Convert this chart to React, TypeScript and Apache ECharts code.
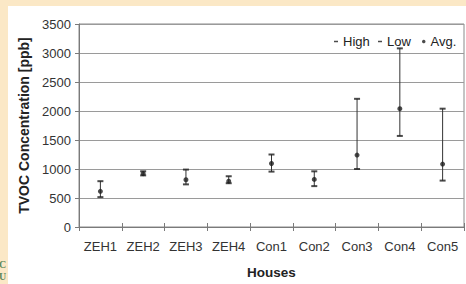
import React, { useEffect, useRef } from "react";
import * as echarts from "echarts";

const categories = ["ZEH1", "ZEH2", "ZEH3", "ZEH4", "Con1", "Con2", "Con3", "Con4", "Con5"];
const highValues = [790, 960, 990, 875, 1250, 960, 2210, 3080, 2040];
const lowValues = [515, 890, 735, 755, 955, 705, 1000, 1570, 800];
const avgValues = [615, 920, 815, 790, 1095, 820, 1240, 2040, 1085];
const yTicks = { min: 0, max: 3500, interval: 500 };

export default function App() {
  const ref = useRef<HTMLDivElement>(null);
  useEffect(() => {
    if (!ref.current) return;
    const chart = echarts.init(ref.current, undefined, { renderer: "svg" });
    const font = "Arial, 'Liberation Sans', sans-serif";
    const dark = "#1e1e1e";
    const legendText = { fontSize: 13, color: "#222", fontFamily: font };
    chart.setOption({
      animation: false,
      backgroundColor: "#fbe8c6",
      textStyle: { fontFamily: font },
      graphic: [
        {
          type: "rect",
          z: -10,
          silent: true,
          shape: { x: 8, y: 6, width: 470, height: 290 },
          style: { fill: "#ffffff" },
        },
        {
          type: "text",
          left: -1,
          top: 259,
          style: { text: "C", fill: "#5f8a5a", font: "bold 10px serif" },
        },
        {
          type: "text",
          left: -1,
          top: 271,
          style: { text: "U", fill: "#5f8a5a", font: "bold 10px serif" },
        },
      ],
      grid: { left: 79, top: 24, right: 2, bottom: 54, show: true, borderColor: "#8a8a8a", borderWidth: 1 },
      legend: [
        {
          left: 329,
          top: 30,
          itemWidth: 4,
          itemHeight: 1.5,
          textStyle: legendText,
          data: [{ name: "High", icon: "rect", itemStyle: { color: dark } }],
        },
        {
          left: 373,
          top: 30,
          itemWidth: 4,
          itemHeight: 1.5,
          textStyle: legendText,
          data: [{ name: "Low", icon: "rect", itemStyle: { color: dark } }],
        },
        {
          left: 417,
          top: 30,
          itemWidth: 3.5,
          itemHeight: 3.5,
          textStyle: legendText,
          data: [{ name: "Avg.", icon: "circle", itemStyle: { color: dark } }],
        },
      ],
      xAxis: [
        {
          type: "category",
          data: categories,
          name: "Houses",
          nameLocation: "middle",
          nameGap: 38,
          nameTextStyle: { fontSize: 13.5, fontWeight: "bold", color: "#222", fontFamily: font },
          axisLine: { lineStyle: { color: "#7a7a7a" } },
          axisTick: { show: true, length: 4, lineStyle: { color: "#7a7a7a" } },
          axisLabel: { interval: 0, fontSize: 13, color: "#333", margin: 13, fontFamily: font },
          splitLine: { show: false },
        },
        {
          type: "category",
          data: categories,
          position: "bottom",
          axisLine: { show: false },
          axisTick: { show: true, inside: true, length: 4, lineStyle: { color: "#7a7a7a" } },
          axisLabel: { show: false },
          splitLine: { show: false },
        },
      ],
      yAxis: {
        type: "value",
        min: yTicks.min,
        max: yTicks.max,
        interval: yTicks.interval,
        name: "TVOC Concentration [ppb]",
        nameLocation: "middle",
        nameGap: 44,
        nameTextStyle: { fontSize: 14, fontWeight: "bold", color: "#222", fontFamily: font },
        axisLine: { show: true, lineStyle: { color: "#7a7a7a" } },
        axisTick: { show: true, length: 4, lineStyle: { color: "#7a7a7a" } },
        axisLabel: {
          fontSize: 13,
          color: "#333",
          margin: 8,
          fontFamily: font,
          formatter: (v: number) => String(v),
        },
        splitLine: { show: true, lineStyle: { color: "#9a9a9a", width: 1 } },
      },
      series: [
        {
          type: "custom",
          name: "range",
          z: 3,
          data: categories.map((_, i) => [i, lowValues[i], highValues[i]]),
          renderItem: (params: any, api: any) => {
            const i = api.value(0);
            const p1 = api.coord([i, api.value(1)]);
            const p2 = api.coord([i, api.value(2)]);
            return {
              type: "line",
              shape: { x1: p1[0], y1: p1[1], x2: p2[0], y2: p2[1] },
              style: { stroke: "#333", lineWidth: 1 },
            };
          },
        },
        {
          type: "scatter",
          name: "High",
          z: 4,
          symbol: "rect",
          symbolSize: [6, 2],
          itemStyle: { color: dark },
          data: highValues,
        },
        {
          type: "scatter",
          name: "Low",
          z: 4,
          symbol: "rect",
          symbolSize: [6, 2],
          itemStyle: { color: dark },
          data: lowValues,
        },
        {
          type: "scatter",
          name: "Avg.",
          z: 5,
          symbol: "circle",
          symbolSize: 5,
          itemStyle: { color: dark },
          data: avgValues,
        },
      ],
    });
    return () => chart.dispose();
  }, []);
  return (
    <div
      ref={ref}
      style={{ position: "fixed", left: 0, top: 0, width: 466, height: 284 }}
    />
  );
}
